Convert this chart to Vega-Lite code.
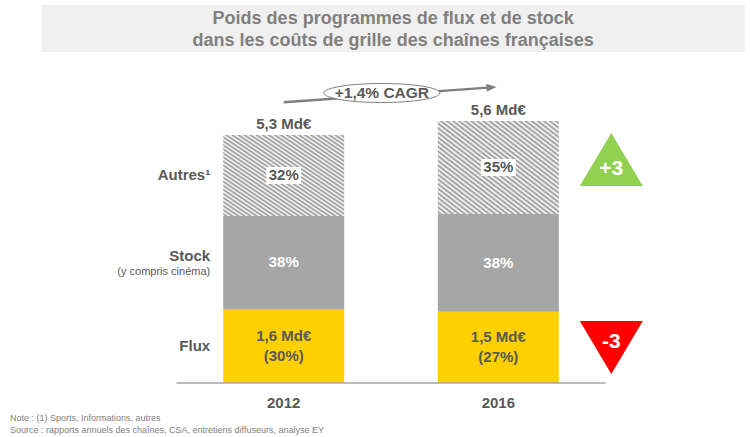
{
  "$schema": "https://vega.github.io/schema/vega-lite/v6.json",
  "width": 750,
  "height": 437,
  "autosize": {"type": "fit", "contains": "padding"},
  "padding": 0,
  "background": "#ffffff",
  "config": {"view": {"stroke": null}, "font": "Liberation Sans"},
  "data": {"values": [
    {"year": 2012, "cat": "Flux", "order": 1, "value": 1.58, "label": "1,6 Md€\n(30%)"},
    {"year": 2012, "cat": "Stock", "order": 2, "value": 1.99, "label": "38%"},
    {"year": 2012, "cat": "Autres¹", "order": 3, "value": 1.73, "label": "32%"},
    {"year": 2016, "cat": "Flux", "order": 1, "value": 1.52, "label": "1,5 Md€\n(27%)"},
    {"year": 2016, "cat": "Stock", "order": 2, "value": 2.09, "label": "38%"},
    {"year": 2016, "cat": "Autres¹", "order": 3, "value": 1.99, "label": "35%"}
  ]},
  "transform": [
    {"stack": "value", "groupby": ["year"], "sort": [{"field": "order", "order": "ascending"}], "as": ["y0", "y1"]},
    {"calculate": "(datum.y0 + datum.y1) / 2", "as": "ymid"}
  ],
  "layer": [
    {
      "data": {"values": [{}]},
      "mark": {"type": "rect", "color": "#f0f0f0"},
      "encoding": {
        "x": {"datum": 2007.485, "type": "quantitative", "scale": {"domain": [2006.805, 2020.598], "nice": false, "zero": false}, "axis": null},
        "x2": {"datum": 2020.598},
        "y": {"datum": 8.077, "type": "quantitative", "scale": {"domain": [-1.154, 8.184], "nice": false, "zero": false}, "axis": null},
        "y2": {"datum": 7.073}
      }
    },
    {
      "data": {"values": [{}]},
      "mark": {"type": "text", "fontSize": 18, "fontWeight": "bold", "color": "#808080", "lineHeight": 22, "align": "center", "baseline": "middle"},
      "encoding": {
        "x": {"datum": 2014.04, "type": "quantitative", "axis": null},
        "y": {"datum": 7.778, "type": "quantitative", "axis": null},
        "text": {"value": ["Poids des programmes de flux et de stock", "dans les coûts de grille des chaînes françaises"]}
      }
    },
    {
      "transform": [{"filter": "datum.cat !== 'Autres¹'"}],
      "mark": {"type": "bar", "width": 121},
      "encoding": {
        "x": {"field": "year", "type": "quantitative", "axis": null},
        "y": {"field": "y0", "type": "quantitative", "axis": null},
        "y2": {"field": "y1"},
        "color": {"field": "cat", "type": "nominal", "scale": {"domain": ["Flux", "Stock"], "range": ["#ffd000", "#a6a6a6"]}, "legend": null}
      }
    },
    {
      "transform": [{"filter": "datum.cat === 'Autres¹'"}],
      "mark": {"type": "bar", "width": 121, "color": {"gradient": "linear", "x1": 0, "y1": 1, "x2": 1, "y2": 0, "stops": [
        {"offset": 0, "color": "#ffffff"}, {"offset": 0.0125, "color": "#959595"}, {"offset": 0.025, "color": "#ffffff"}, {"offset": 0.0375, "color": "#959595"},
        {"offset": 0.05, "color": "#ffffff"}, {"offset": 0.0625, "color": "#959595"}, {"offset": 0.075, "color": "#ffffff"}, {"offset": 0.0875, "color": "#959595"},
        {"offset": 0.1, "color": "#ffffff"}, {"offset": 0.1125, "color": "#959595"}, {"offset": 0.125, "color": "#ffffff"}, {"offset": 0.1375, "color": "#959595"},
        {"offset": 0.15, "color": "#ffffff"}, {"offset": 0.1625, "color": "#959595"}, {"offset": 0.175, "color": "#ffffff"}, {"offset": 0.1875, "color": "#959595"},
        {"offset": 0.2, "color": "#ffffff"}, {"offset": 0.2125, "color": "#959595"}, {"offset": 0.225, "color": "#ffffff"}, {"offset": 0.2375, "color": "#959595"},
        {"offset": 0.25, "color": "#ffffff"}, {"offset": 0.2625, "color": "#959595"}, {"offset": 0.275, "color": "#ffffff"}, {"offset": 0.2875, "color": "#959595"},
        {"offset": 0.3, "color": "#ffffff"}, {"offset": 0.3125, "color": "#959595"}, {"offset": 0.325, "color": "#ffffff"}, {"offset": 0.3375, "color": "#959595"},
        {"offset": 0.35, "color": "#ffffff"}, {"offset": 0.3625, "color": "#959595"}, {"offset": 0.375, "color": "#ffffff"}, {"offset": 0.3875, "color": "#959595"},
        {"offset": 0.4, "color": "#ffffff"}, {"offset": 0.4125, "color": "#959595"}, {"offset": 0.425, "color": "#ffffff"}, {"offset": 0.4375, "color": "#959595"},
        {"offset": 0.45, "color": "#ffffff"}, {"offset": 0.4625, "color": "#959595"}, {"offset": 0.475, "color": "#ffffff"}, {"offset": 0.4875, "color": "#959595"},
        {"offset": 0.5, "color": "#ffffff"}, {"offset": 0.5125, "color": "#959595"}, {"offset": 0.525, "color": "#ffffff"}, {"offset": 0.5375, "color": "#959595"},
        {"offset": 0.55, "color": "#ffffff"}, {"offset": 0.5625, "color": "#959595"}, {"offset": 0.575, "color": "#ffffff"}, {"offset": 0.5875, "color": "#959595"},
        {"offset": 0.6, "color": "#ffffff"}, {"offset": 0.6125, "color": "#959595"}, {"offset": 0.625, "color": "#ffffff"}, {"offset": 0.6375, "color": "#959595"},
        {"offset": 0.65, "color": "#ffffff"}, {"offset": 0.6625, "color": "#959595"}, {"offset": 0.675, "color": "#ffffff"}, {"offset": 0.6875, "color": "#959595"},
        {"offset": 0.7, "color": "#ffffff"}, {"offset": 0.7125, "color": "#959595"}, {"offset": 0.725, "color": "#ffffff"}, {"offset": 0.7375, "color": "#959595"},
        {"offset": 0.75, "color": "#ffffff"}, {"offset": 0.7625, "color": "#959595"}, {"offset": 0.775, "color": "#ffffff"}, {"offset": 0.7875, "color": "#959595"},
        {"offset": 0.8, "color": "#ffffff"}, {"offset": 0.8125, "color": "#959595"}, {"offset": 0.825, "color": "#ffffff"}, {"offset": 0.8375, "color": "#959595"},
        {"offset": 0.85, "color": "#ffffff"}, {"offset": 0.8625, "color": "#959595"}, {"offset": 0.875, "color": "#ffffff"}, {"offset": 0.8875, "color": "#959595"},
        {"offset": 0.9, "color": "#ffffff"}, {"offset": 0.9125, "color": "#959595"}, {"offset": 0.925, "color": "#ffffff"}, {"offset": 0.9375, "color": "#959595"},
        {"offset": 0.95, "color": "#ffffff"}, {"offset": 0.9625, "color": "#959595"}, {"offset": 0.975, "color": "#ffffff"}, {"offset": 0.9875, "color": "#959595"},
        {"offset": 1, "color": "#ffffff"}
      ]}},
      "encoding": {
        "x": {"field": "year", "type": "quantitative", "axis": null},
        "y": {"field": "y0", "type": "quantitative", "axis": null},
        "y2": {"field": "y1"}
      }
    },
    {
      "transform": [{"filter": "datum.cat === 'Autres¹'"}],
      "mark": {"type": "point", "shape": "M-1,-0.486H1V0.486H-1Z", "size": 1225, "filled": true, "color": "#ffffff", "opacity": 1},
      "encoding": {
        "x": {"field": "year", "type": "quantitative", "axis": null},
        "y": {"field": "ymid", "type": "quantitative", "axis": null}
      }
    },
    {
      "transform": [{"filter": "datum.cat !== 'Flux'"}],
      "mark": {"type": "text", "fontSize": 15, "fontWeight": "bold", "align": "center", "baseline": "middle"},
      "encoding": {
        "x": {"field": "year", "type": "quantitative", "axis": null},
        "y": {"field": "ymid", "type": "quantitative", "axis": null},
        "text": {"field": "label"},
        "color": {"condition": {"test": "datum.cat === 'Stock'", "value": "#ffffff"}, "value": "#595959"}
      }
    },
    {
      "transform": [{"filter": "datum.cat === 'Flux'"}],
      "mark": {"type": "text", "fontSize": 15, "fontWeight": "bold", "lineBreak": "\n", "lineHeight": 20, "align": "center", "baseline": "middle", "dy": -10, "color": "#595959"},
      "encoding": {
        "x": {"field": "year", "type": "quantitative", "axis": null},
        "y": {"field": "ymid", "type": "quantitative", "axis": null},
        "text": {"field": "label"}
      }
    },
    {
      "transform": [{"filter": "datum.year === 2012 && datum.cat !== 'Stock'"}],
      "mark": {"type": "text", "fontSize": 15, "fontWeight": "bold", "color": "#595959", "align": "right", "baseline": "middle"},
      "encoding": {
        "x": {"datum": 2010.63, "type": "quantitative", "axis": null},
        "y": {"field": "ymid", "type": "quantitative", "axis": null},
        "text": {"field": "cat"}
      }
    },
    {
      "transform": [{"filter": "datum.year === 2012 && datum.cat === 'Stock'"}],
      "mark": {"type": "text", "fontSize": 15, "fontWeight": "bold", "color": "#595959", "align": "right", "baseline": "middle", "dy": -6},
      "encoding": {
        "x": {"datum": 2010.63, "type": "quantitative", "axis": null},
        "y": {"field": "ymid", "type": "quantitative", "axis": null},
        "text": {"field": "cat"}
      }
    },
    {
      "transform": [{"filter": "datum.year === 2012 && datum.cat === 'Stock'"}],
      "mark": {"type": "text", "fontSize": 11, "color": "#595959", "align": "right", "baseline": "middle", "dy": 10},
      "encoding": {
        "x": {"datum": 2010.63, "type": "quantitative", "axis": null},
        "y": {"field": "ymid", "type": "quantitative", "axis": null},
        "text": {"value": "(y compris cinéma)"}
      }
    },
    {
      "data": {"values": [{"year": 2012, "total": 5.3, "label": "5,3 Md€"}, {"year": 2016, "total": 5.6, "label": "5,6 Md€"}]},
      "mark": {"type": "text", "fontSize": 15, "fontWeight": "bold", "color": "#595959", "align": "center", "baseline": "middle", "dy": -11},
      "encoding": {
        "x": {"field": "year", "type": "quantitative", "axis": null},
        "y": {"field": "total", "type": "quantitative", "axis": null},
        "text": {"field": "label"}
      }
    },
    {
      "data": {"values": [{"year": 2012}, {"year": 2016}]},
      "mark": {"type": "text", "fontSize": 15, "fontWeight": "bold", "color": "#595959", "align": "center", "baseline": "middle"},
      "encoding": {
        "x": {"field": "year", "type": "quantitative", "axis": null},
        "y": {"datum": -0.427, "type": "quantitative", "axis": null},
        "text": {"field": "year", "type": "nominal"}
      }
    },
    {
      "data": {"values": [{}]},
      "mark": {"type": "rule", "color": "#a6a6a6", "strokeWidth": 1.5},
      "encoding": {
        "x": {"datum": 2010.0, "type": "quantitative", "axis": null},
        "x2": {"datum": 2018.0},
        "y": {"datum": 0, "type": "quantitative", "axis": null}
      }
    },
    {
      "data": {"values": [{}]},
      "mark": {"type": "rule", "color": "#7f7f7f", "strokeWidth": 2.5},
      "encoding": {
        "x": {"datum": 2012.0, "type": "quantitative", "axis": null},
        "x2": {"datum": 2015.872},
        "y": {"datum": 6.0, "type": "quantitative", "axis": null},
        "y2": {"datum": 6.317}
      }
    },
    {
      "data": {"values": [{}]},
      "mark": {"type": "point", "shape": "M1,0L-1,-0.8L-1,0.8Z", "size": 100, "filled": true, "color": "#7f7f7f", "opacity": 1, "angle": -4},
      "encoding": {
        "x": {"datum": 2015.872, "type": "quantitative", "axis": null},
        "y": {"datum": 6.317, "type": "quantitative", "axis": null}
      }
    },
    {
      "data": {"values": [{}]},
      "mark": {"type": "point", "shape": "M-1,0C-1,-0.0906,-0.5523,-0.164,0,-0.164C0.5523,-0.164,1,-0.0906,1,0C1,0.0906,0.5523,0.164,0,0.164C-0.5523,0.164,-1,0.0906,-1,0Z", "size": 13456, "fill": "#ffffff", "stroke": "#7f7f7f", "strokeWidth": 1, "opacity": 1},
      "encoding": {
        "x": {"datum": 2013.83, "type": "quantitative", "axis": null},
        "y": {"datum": 6.197, "type": "quantitative", "axis": null}
      }
    },
    {
      "data": {"values": [{}]},
      "mark": {"type": "text", "fontSize": 15.5, "fontWeight": "bold", "color": "#595959", "align": "center", "baseline": "middle"},
      "encoding": {
        "x": {"datum": 2013.83, "type": "quantitative", "axis": null},
        "y": {"datum": 6.197, "type": "quantitative", "axis": null},
        "text": {"value": "+1,4% CAGR"}
      }
    },
    {
      "data": {"values": [{}]},
      "mark": {"type": "point", "shape": "M0,-0.84L-1,0.84L1,0.84Z", "size": 3969, "filled": true, "color": "#92d050", "opacity": 1},
      "encoding": {
        "x": {"datum": 2018.106, "type": "quantitative", "axis": null},
        "y": {"datum": 4.776, "type": "quantitative", "axis": null}
      }
    },
    {
      "data": {"values": [{}]},
      "mark": {"type": "point", "shape": "M-1,-0.84L1,-0.84L0,0.84Z", "size": 3969, "filled": true, "color": "#ff0000", "opacity": 1},
      "encoding": {
        "x": {"datum": 2018.106, "type": "quantitative", "axis": null},
        "y": {"datum": 0.759, "type": "quantitative", "axis": null}
      }
    },
    {
      "data": {"values": [{}]},
      "mark": {"type": "text", "fontSize": 21, "fontWeight": "bold", "color": "#ffffff", "align": "center", "baseline": "middle"},
      "encoding": {
        "x": {"datum": 2018.106, "type": "quantitative", "axis": null},
        "y": {"datum": 4.573, "type": "quantitative", "axis": null},
        "text": {"value": "+3"}
      }
    },
    {
      "data": {"values": [{}]},
      "mark": {"type": "text", "fontSize": 21, "fontWeight": "bold", "color": "#ffffff", "align": "center", "baseline": "middle"},
      "encoding": {
        "x": {"datum": 2018.106, "type": "quantitative", "axis": null},
        "y": {"datum": 0.876, "type": "quantitative", "axis": null},
        "text": {"value": "-3"}
      }
    },
    {
      "data": {"values": [{}]},
      "mark": {"type": "text", "fontSize": 9, "color": "#7f7f7f", "align": "left", "baseline": "middle", "lineHeight": 11.5},
      "encoding": {
        "x": {"datum": 2006.897, "type": "quantitative", "axis": null},
        "y": {"datum": -0.748, "type": "quantitative", "axis": null},
        "text": {"value": ["Note : (1) Sports, Informations, autres", "Source : rapports annuels des chaînes, CSA, entretiens diffuseurs, analyse EY"]}
      }
    }
  ]
}
